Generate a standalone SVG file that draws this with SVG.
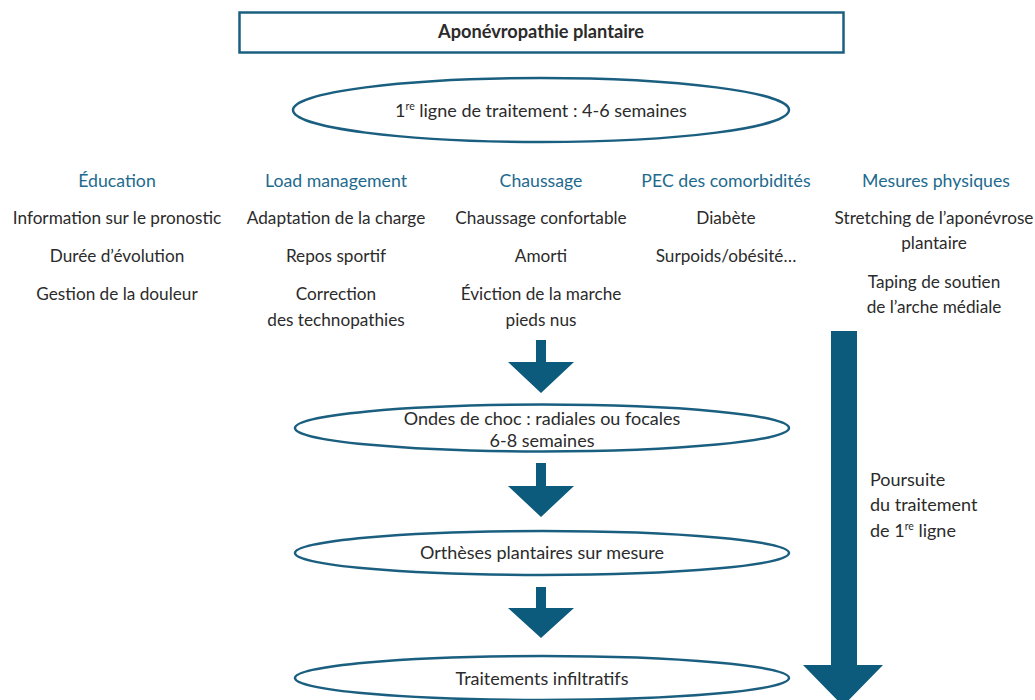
<svg xmlns="http://www.w3.org/2000/svg" width="1035" height="700" viewBox="0 0 1035 700">
<style>
.t{font-family:Lato,"Liberation Sans",sans-serif;font-size:17.2px;fill:#2b2b2b;text-anchor:middle}
.l{font-size:18px}
.h{font-family:Lato,"Liberation Sans",sans-serif;font-size:17.7px;fill:#1d6a8e;text-anchor:middle}
.b{font-weight:bold;font-size:18.2px}
.e{fill:#fff;stroke:#1b5f80;stroke-width:2.5}
.a{fill:#0c5a7c}
.sup{font-size:10.5px}
</style>
<rect width="1035" height="700" fill="#fff"/>
<g id="title">
<rect x="239.5" y="12.5" width="604" height="40" fill="#fff" stroke="#1b5f80" stroke-width="2.5"/>
<text class="t b" x="541" y="38">Aponévropathie plantaire</text>
</g>
<g id="ligne1">
<ellipse class="e" cx="541" cy="110" rx="248" ry="32"/>
<text class="t l" x="541" y="117">1<tspan class="sup" dy="-7">re</tspan><tspan dy="7"> ligne de traitement : 4-6 semaines</tspan></text>
</g>
<g id="education">
<text class="h" x="117" y="187">Éducation</text>
<text class="t" x="117" y="224">Information sur le pronostic</text>
<text class="t" x="117" y="262">Durée d’évolution</text>
<text class="t" x="117" y="300">Gestion de la douleur</text>
</g>
<g id="load">
<text class="h" x="336" y="187">Load management</text>
<text class="t" x="336" y="224">Adaptation de la charge</text>
<text class="t" x="336" y="262">Repos sportif</text>
<text class="t" x="336" y="300">Correction</text>
<text class="t" x="336" y="326">des technopathies</text>
</g>
<g id="chaussage">
<text class="h" x="541" y="187">Chaussage</text>
<text class="t" x="541" y="224">Chaussage confortable</text>
<text class="t" x="541" y="262">Amorti</text>
<text class="t" x="541" y="300">Éviction de la marche</text>
<text class="t" x="541" y="326">pieds nus</text>
</g>
<g id="pec">
<text class="h" x="726" y="187">PEC des comorbidités</text>
<text class="t" x="726" y="224">Diabète</text>
<text class="t" x="726" y="262">Surpoids/obésité…</text>
</g>
<g id="mesures">
<text class="h" x="936" y="187">Mesures physiques</text>
<text class="t" x="934" y="224">Stretching de l’aponévrose</text>
<text class="t" x="934" y="249">plantaire</text>
<text class="t" x="934" y="288">Taping de soutien</text>
<text class="t" x="934" y="313">de l’arche médiale</text>
</g>
<g id="ondes">
<ellipse class="e" cx="542" cy="428" rx="247" ry="23.5"/>
<text class="t l" x="542" y="425">Ondes de choc : radiales ou focales</text>
<text class="t l" x="542" y="447">6-8 semaines</text>
</g>
<g id="ortheses">
<ellipse class="e" cx="542" cy="553" rx="247" ry="22"/>
<text class="t l" x="542" y="559">Orthèses plantaires sur mesure</text>
</g>
<g id="infiltratifs">
<ellipse class="e" cx="542" cy="678" rx="247" ry="22"/>
<text class="t l" x="542" y="685">Traitements infiltratifs</text>
</g>
<g id="poursuite">
<text class="t l" x="870" y="486" style="text-anchor:start">Poursuite</text>
<text class="t l" x="870" y="511" style="text-anchor:start">du traitement</text>
<text class="t l" x="870" y="537" style="text-anchor:start">de 1<tspan class="sup" dy="-7">re</tspan><tspan dy="7"> ligne</tspan></text>
</g>
<g id="connectors">
<path class="a" d="M536,340 H546 V362 H574 L541,393 L508,362 H536 Z"/>
<path class="a" d="M536,463 H546 V486 H574 L541,517 L508,486 H536 Z"/>
<path class="a" d="M536,587 H546 V608 H574 L541,638 L508,608 H536 Z"/>
<path class="a" d="M831,331 H857 V665 H883 L843,706 L803,665 H831 Z"/>
</g>
</svg>
